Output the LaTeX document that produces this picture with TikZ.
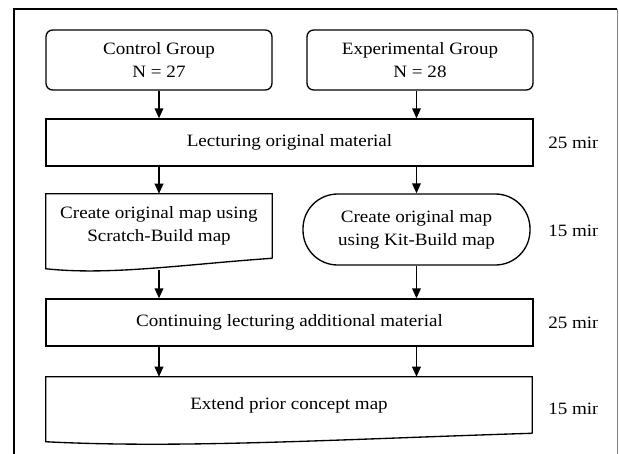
\documentclass[tikz,border=0pt]{standalone}
\usepackage{fontspec}
\setmainfont{Liberation Serif}[FakeStretch=1.1]
\usetikzlibrary{arrows.meta,calc}
\tikzset{
  grp/.style={rectangle, rounded corners=5pt, draw=black, line width=1pt,
              minimum width=169.5pt, minimum height=45pt, align=center, inner sep=0pt},
  stage/.style={rectangle, draw=black, line width=1pt, minimum width=365.25pt,
                minimum height=35.25pt, align=center, inner sep=0pt},
  docu/.style={rectangle, align=center, inner sep=0pt},
  term/.style={rectangle, rounded corners=26pt, draw=black, line width=1pt,
               minimum width=170.25pt, minimum height=53.25pt, align=center, inner sep=0pt},
  wave/.style={line width=1pt},
  ar/.style={-{Triangle[length=7.5pt,width=6.5pt]}, line width=1pt},
  tm/.style={anchor=west, inner sep=0pt},
}

\begin{document}
\begin{tikzpicture}[x=0.75pt,y=-0.75pt,font=\fontsize{13}{17.25}\selectfont]
\useasboundingbox (0,0) rectangle (619,454);
% frame
\draw[line width=1.3pt] (14,454) -- (14,9) -- (617,9);
\draw[gray, line width=0.6pt] (617,9) -- (617,454);

\node[grp] (ctrl) at (159,60) {Control Group\\N = 27};
\node[grp] (expg) at (420,60) {Experimental Group\\N = 28};
\node[stage] (lect) at (289.5,142.5) {Lecturing original material};
\node[docu, minimum width=169.5pt, minimum height=48pt] (scr) at (159,226) {Create original map using\\Scratch-Build map};
\draw[wave] (scr.south east) -- (scr.north east) -- (scr.north west) -- ++(0,75)
  .. controls +(64,7) and +(-87,6) .. (scr.south east);
\node[term] (kit) at (416.5,229.5) {Create original map\\using Kit-Build map};
\node[stage] (cont) at (289.5,322.5) {Continuing lecturing additional material};
\node[docu, minimum width=364.5pt, minimum height=42pt] (ext) at (289,405) {Extend prior concept map};
\draw[wave] (ext.south east) -- (ext.north east) -- (ext.north west) -- ++(0,65)
  .. controls +(136,7) and +(-194,6) .. (ext.south east);

\draw[ar] (ctrl) -- (ctrl |- lect.north);
\draw[ar] (kit |- expg.south) -- (kit |- lect.north);
\draw[ar] (lect.south -| scr) -- (scr.north);
\draw[ar] (lect.south -| kit) -- (kit);
\draw[ar] ($(scr.south)+(0,11.5)$) -- (cont.north -| scr);
\draw[ar] (kit) -- (kit |- cont.north);
\draw[ar] (cont.south -| scr) -- (ext.north -| scr);
\draw[ar] (cont.south -| kit) -- (ext.north -| kit);

% durations, cut at the right
\begin{scope}
\clip (540,0) rectangle (597,454);
\node[tm] (t1) at (548,142.5) {25 min};
\node[tm] (t2) at (548,231) {15 min};
\node[tm] (t3) at (548,322.5) {25 min};
\node[tm] (t4) at (548,409) {15 min};
\end{scope}
\end{tikzpicture}
\end{document}
